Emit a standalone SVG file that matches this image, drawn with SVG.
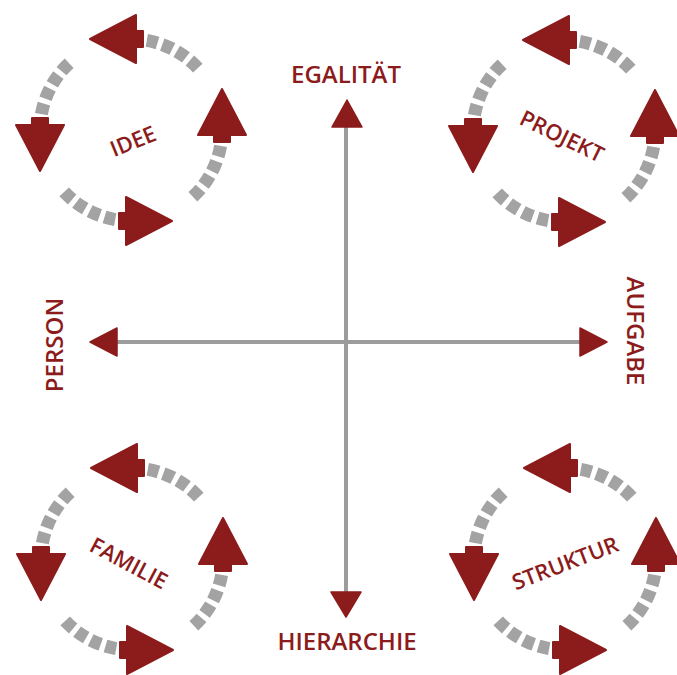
<svg xmlns="http://www.w3.org/2000/svg" xmlns:xlink="http://www.w3.org/1999/xlink" width="677" height="675" viewBox="0 0 677 675">
<style>
.tail{fill:none;stroke:#a3a3a3;stroke-width:13;stroke-dasharray:11 5}
.head{fill:#8c1b1b;stroke:#8c1b1b;stroke-width:2;stroke-linejoin:round}
.axis{stroke:#9c9c9c;stroke-width:4;fill:none}
.ah{fill:#8c1b1b;stroke:#8c1b1b;stroke-width:1.5;stroke-linejoin:round}
.lbl{font-family:"Open Sans","Liberation Sans",sans-serif;font-weight:600;font-size:24px;fill:#8c1b1b;text-anchor:middle}
.rl{font-family:"Open Sans","Liberation Sans",sans-serif;font-weight:600;font-size:22px;fill:#8c1b1b;text-anchor:middle}
</style>
<defs>
<g id="arrowR">
<path class="tail" d="M 89.6 15.8 A 91 91 0 0 1 61.0 67.6"/>
<rect class="head" x="83" y="4" width="16" height="8"/>
<polygon class="head" points="91,-41 67,5 115,5"/>
</g>
<g id="ring">
<use href="#arrowR"/>
<use href="#arrowR" transform="rotate(-90)"/>
<use href="#arrowR" transform="rotate(180)"/>
<use href="#arrowR" transform="rotate(90)"/>
</g>
</defs>
<rect width="677" height="675" fill="#ffffff"/>
<g id="connectors">
<line class="axis" x1="346" y1="125" x2="346" y2="594"/>
<line class="axis" x1="115" y1="342" x2="582" y2="342"/>
<polygon class="ah" points="347,100 332,127 362,127"/>
<polygon class="ah" points="331,592 361,592 346,617"/>
<polygon class="ah" points="90,342 117,328 117,356"/>
<polygon class="ah" points="607,342 580,328 580,356"/>
</g>
<g id="egalitaet"><text class="lbl" x="346" y="83">EGALITÄT</text></g>
<g id="hierarchie"><text class="lbl" x="347" y="650">HIERARCHIE</text></g>
<g id="person"><text class="lbl" transform="translate(63,345) rotate(-90)">PERSON</text></g>
<g id="aufgabe"><text class="lbl" transform="translate(627,331) rotate(90)">AUFGABE</text></g>
<g id="idee">
<use href="#ring" transform="translate(131,130)"/>
<text class="rl" transform="translate(133,141) rotate(-22)" y="8">IDEE</text>
</g>
<g id="projekt">
<use href="#ring" transform="translate(564,131)"/>
<text class="rl" transform="translate(562,136) rotate(26)" y="8">PROJEKT</text>
</g>
<g id="familie">
<use href="#ring" transform="translate(132,559)"/>
<text class="rl" transform="translate(129,563) rotate(28)" y="8">FAMILIE</text>
</g>
<g id="struktur">
<use href="#ring" transform="translate(565,559)"/>
<text class="rl" transform="translate(565,563) rotate(-21)" y="8">STRUKTUR</text>
</g>
</svg>
